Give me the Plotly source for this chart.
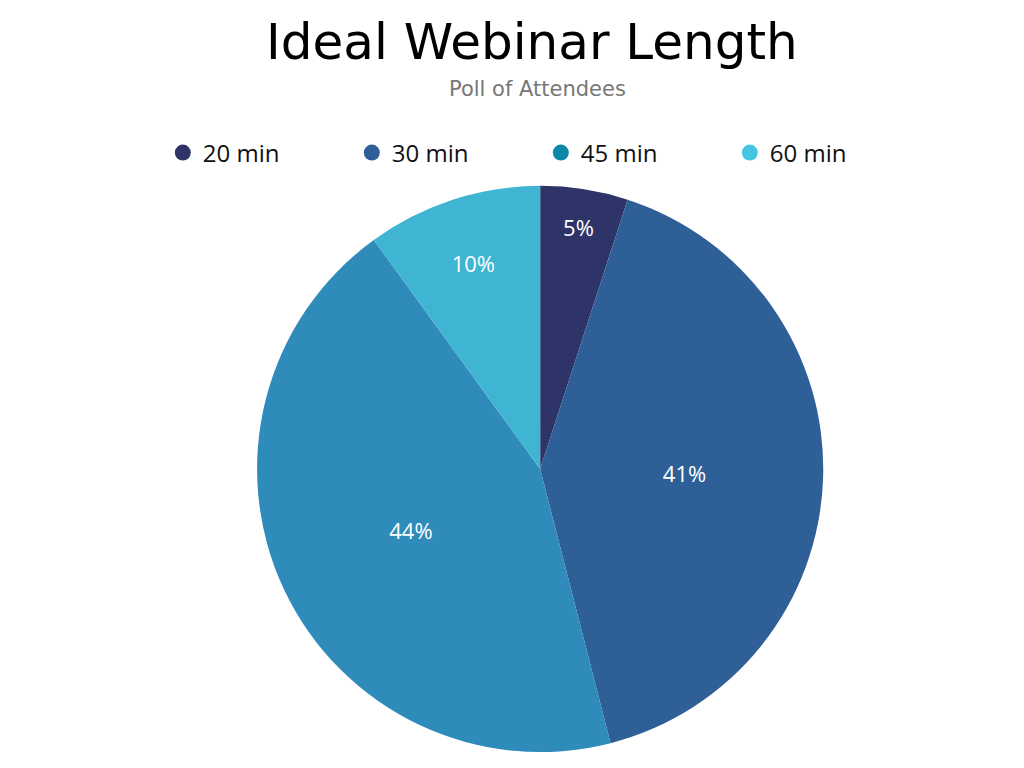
import plotly.graph_objects as go

categories = ["20 min", "30 min", "45 min", "60 min"]
values = [5, 41, 44, 10]
slice_colors = ["#2e3468", "#2e5f97", "#2e8bba", "#40b5d3"]
legend_colors = ["#2e3468", "#2e5f97", "#0b88a8", "#45c5e0"]

title_text = "Ideal Webinar Length"
subtitle_text = "Poll of Attendees"

fig = go.Figure()
fig.add_trace(go.Pie(
    labels=categories, values=values, sort=False, direction="clockwise",
    rotation=0, marker=dict(colors=slice_colors, line=dict(width=0)),
    textinfo="percent", texttemplate="%{percent:.0%}",
    textposition="inside", insidetextorientation="horizontal",
    textfont=dict(family="Open Sans", size=22, color="white"),
    showlegend=False, hoverinfo="label+percent",
    domain=dict(x=[0.251, 0.804], y=[0.0208, 0.758]),
))
for name, col in zip(categories, legend_colors):
    fig.add_trace(go.Scatter(
        x=[None], y=[None], mode="markers", name=name,
        marker=dict(color=col, size=16, symbol="circle"),
    ))

fig.update_layout(
    width=1024, height=768, margin=dict(l=0, r=0, t=0, b=0),
    paper_bgcolor="white", plot_bgcolor="white",
    xaxis=dict(visible=False), yaxis=dict(visible=False),
    legend=dict(orientation="h", x=0.159, xanchor="left", y=1 - 153 / 768,
                yanchor="middle", entrywidth=144, entrywidthmode="pixels",
                font=dict(family="Open Sans", size=24, color="#111111"),
                itemsizing="trace"),
    annotations=[
        dict(text=title_text, x=0.52, y=1 - 42 / 768, yanchor="middle",
             xref="paper", yref="paper", showarrow=False,
             font=dict(family="DejaVu Sans", size=50, color="black")),
        dict(text=subtitle_text, x=0.525, y=1 - 89 / 768, yanchor="middle",
             xref="paper", yref="paper", showarrow=False,
             font=dict(family="DejaVu Sans", size=21, color="#777777")),
    ],
)

fig.write_html("out.html")
